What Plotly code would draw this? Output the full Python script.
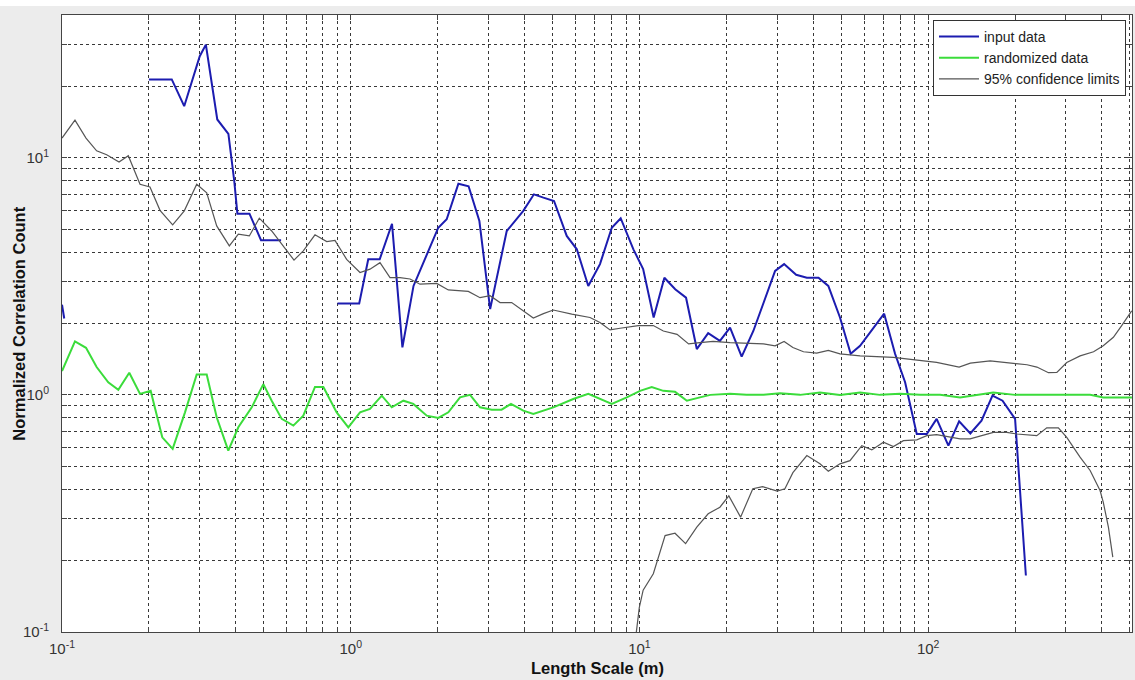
import plotly.graph_objects as go

# Length scale (m) and normalized correlation counts
input_x = [0.1, 0.1018, None,
           0.2, 0.24, 0.265, 0.30, 0.315, 0.345, 0.377, 0.395, 0.405, 0.446, 0.489, 0.574, None,
           0.90, 1.07, 1.15, 1.26, 1.39, 1.51, 1.65, 1.86, 2.01, 2.15,
           2.36, 2.56, 2.79, 3.04, 3.47, 3.96, 4.31, 4.65, 5.06, 5.60,
           6.07, 6.65, 7.30, 8.02, 8.61, 9.53, 10.3, 11.2, 12.2, 13.3,
           14.5, 15.8, 17.3, 19.0, 20.6, 22.6, 24.8, 29.5, 31.7, 34.9,
           38.0, 41.7, 45.1, 49.5, 53.9, 58.1, 70.4, 76.8, 83.2, 91.3,
           98.9, 107, 117.5, 128, 140, 153, 167, 181, 200, 218]
input_y = [2.40, 2.10, None,
           21.4, 21.4, 16.5, 26.8, 30.0, 14.5, 12.6, 7.98, 5.81, 5.81, 4.49, 4.49, None,
           2.43, 2.43, 3.73, 3.73, 5.27, 1.585, 2.88, 4.05, 5.07, 5.50,
           7.77, 7.58, 5.41, 2.30, 4.91, 5.97, 7.01, 6.79, 6.57, 4.68,
           4.11, 2.88, 3.56, 5.07, 5.56, 4.11, 3.39, 2.12, 3.12, 2.79,
           2.57, 1.56, 1.82, 1.69, 1.92, 1.45, 1.86, 3.33, 3.56, 3.21,
           3.12, 3.12, 2.88, 2.12, 1.49, 1.61, 2.20, 1.49, 1.13, 0.684,
           0.684, 0.792, 0.611, 0.773, 0.688, 0.779, 0.992, 0.945, 0.792, 0.173]

rand_x = [0.1, 0.1109, 0.1211, 0.1318, 0.1446, 0.1567, 0.171, 0.1863, 0.2028,
          0.2225, 0.2417, 0.2667, 0.2928, 0.3171, 0.3434, 0.3767, 0.408, 0.4542, 0.4982,
          0.5325, 0.5768, 0.6328, 0.6851, 0.752, 0.804, 0.894, 0.981, 1.077, 1.166,
          1.281, 1.387, 1.522, 1.647, 1.834, 2.011, 2.178, 2.391, 2.590, 2.805,
          3.08, 3.33, 3.59, 3.96, 4.29, 5.03, 5.90, 6.65, 7.30, 8.02,
          9.04, 10.05, 11.03, 12.1, 13.28, 14.6, 16.2, 17.6, 20.6, 23.5,
          26.9, 30.7, 36.0, 42.2, 49.5, 58.1, 68.1, 79.9, 93.7, 110,
          129, 145, 168, 200, 244, 298, 364, 404, 444, 508]
rand_y = [1.26, 1.68, 1.58, 1.31, 1.13, 1.05, 1.24, 1.01, 1.04,
          0.662, 0.592, 0.844, 1.22, 1.22, 0.804, 0.582, 0.730, 0.886, 1.11,
          0.945, 0.792, 0.742, 0.817, 1.08, 1.08, 0.844, 0.730, 0.844, 0.872,
          0.992, 0.886, 0.945, 0.916, 0.817, 0.799, 0.844, 0.976, 1.0, 0.886,
          0.866, 0.866, 0.916, 0.858, 0.831, 0.886, 0.961, 1.01, 0.961, 0.916,
          0.976, 1.04, 1.08, 1.04, 1.03, 0.945, 0.976, 1.0, 1.01, 1.0,
          1.0, 1.015, 1.0, 1.024, 1.0, 1.024, 1.0, 1.012, 1.0, 1.0,
          0.976, 1.0, 1.024, 1.0, 1.0, 1.0, 1.0, 0.976, 0.975, 0.975]

upper_x = [0.1, 0.1109, 0.1211, 0.1318, 0.1428, 0.1576, 0.1697, 0.1863, 0.2017, 0.2185,
           0.2417, 0.2652, 0.2928, 0.3171, 0.3434, 0.3798, 0.408, 0.4455, 0.4824, 0.5325,
           0.5922, 0.6362, 0.6851, 0.752, 0.826, 0.882, 0.968, 1.077, 1.166, 1.263,
           1.368, 1.482, 1.605, 1.738, 1.986, 2.178, 2.555, 2.805, 3.039, 3.29,
           3.61, 3.96, 4.29, 4.65, 5.03, 5.83, 6.74, 7.30, 7.91, 8.57,
           9.91, 11.17, 12.1, 13.5, 14.8, 16.2, 18.0, 20.6, 23.5, 26.9,
           29.5, 31.7, 34.0, 37.0, 41.1, 45.1, 49.5, 58.1, 75.8, 91.3,
           107, 128, 140, 164, 182, 220, 238, 261, 279, 302,
           336, 374, 404, 438, 468, 507]
upper_y = [12.1, 14.4, 12.1, 10.7, 10.3, 9.59, 10.2, 7.73, 7.53, 6.00,
           5.21, 5.97, 7.73, 7.12, 5.16, 4.25, 4.76, 4.68, 5.56, 4.91,
           4.15, 3.70, 4.05, 4.73, 4.43, 4.48, 3.73, 3.28, 3.39, 3.61,
           3.12, 3.12, 3.08, 2.93, 2.95, 2.77, 2.73, 2.57, 2.62, 2.45,
           2.45, 2.26, 2.11, 2.20, 2.28, 2.19, 2.12, 2.02, 1.88, 1.91,
           1.96, 1.96, 1.86, 1.80, 1.64, 1.66, 1.68, 1.66, 1.65, 1.64,
           1.61, 1.68, 1.585, 1.52, 1.50, 1.54, 1.49, 1.46, 1.44, 1.40,
           1.37, 1.31, 1.36, 1.39, 1.37, 1.34, 1.31, 1.24, 1.245, 1.37,
           1.46, 1.52, 1.61, 1.75, 1.96, 2.26]

lower_x = [9.6, 9.99, 10.3, 11.17, 12.27, 13.28, 14.45, 15.8, 17.3, 19.0,
           20.4, 22.4, 24.7, 26.7, 30.0, 31.9, 34.0, 38.0, 42.2, 45.1,
           49.5, 53.6, 58.9, 63.8, 70.0, 75.8, 82.1, 91.3, 98.9, 107,
           129, 139.7, 168.2, 187.2, 202.8, 237.8, 257.5, 282.5, 302, 335.8,
           363.9, 393.9, 404, 421, 436]
lower_y = [0.085, 0.127, 0.150, 0.176, 0.255, 0.261, 0.236, 0.277, 0.315, 0.336,
           0.375, 0.305, 0.402, 0.410, 0.393, 0.402, 0.470, 0.555, 0.512, 0.476,
           0.512, 0.528, 0.611, 0.586, 0.631, 0.605, 0.641, 0.646, 0.673, 0.680,
           0.652, 0.652, 0.695, 0.695, 0.684, 0.673, 0.726, 0.726, 0.662, 0.546,
           0.480, 0.395, 0.353, 0.277, 0.207]

x_decades = [-1, 0, 1, 2]
y_decades = [-1, 0, 1]

FONT = "Liberation Sans, Arial, sans-serif"
GRID = "#383838"


def log_ticks(decades, upper):
    vals, text = [], []
    for d in decades:
        for m in range(1, 10):
            v = m * 10.0 ** d
            if v > upper:
                break
            vals.append(v)
            text.append(f"10<sup>{d}</sup>" if m == 1 else "")
    return vals, text


xt_vals, xt_text = log_ticks(x_decades, 510)
yt_vals, yt_text = log_ticks(y_decades, 40)

fig = go.Figure()
fig.add_trace(go.Scatter(x=input_x, y=input_y, mode="lines", name="input data",
                         line=dict(color="#1c1cb0", width=2), connectgaps=False))
fig.add_trace(go.Scatter(x=rand_x, y=rand_y, mode="lines", name="randomized data",
                         line=dict(color="#3bdc3b", width=2)))
fig.add_trace(go.Scatter(x=upper_x, y=upper_y, mode="lines", name="95% confidence limits",
                         line=dict(color="#555555", width=1.2), legendgroup="ci"))
fig.add_trace(go.Scatter(x=lower_x, y=lower_y, mode="lines", name="95% confidence limits",
                         line=dict(color="#555555", width=1.2), legendgroup="ci",
                         showlegend=False))

axis_common = dict(
    type="log",
    showgrid=True, gridcolor=GRID, gridwidth=1, griddash="dot",
    showline=True, linecolor="#444444", linewidth=1, mirror="ticks",
    ticks="inside", ticklen=5, tickcolor="#444444",
    tickfont=dict(family=FONT, size=15, color="#333333"),
    zeroline=False,
)

fig.update_xaxes(range=[-1, 2.706], tickmode="array", tickvals=xt_vals, ticktext=xt_text,
                 ticklabelstandoff=3, **axis_common)
fig.update_yaxes(range=[-1, 1.602], tickmode="array", tickvals=yt_vals, ticktext=yt_text,
                 ticklabelstandoff=9, **axis_common)

fig.update_layout(
    width=1135, height=680,
    margin=dict(l=62, r=3, t=15, b=48),
    paper_bgcolor="#ececec", plot_bgcolor="white",
    font=dict(family=FONT, color="#222222"),
    showlegend=True,
    legend=dict(
        x=0.9944, y=0.992, xanchor="right", yanchor="top",
        bgcolor="white", bordercolor="#333333", borderwidth=1,
        font=dict(family=FONT, size=14, color="#222222"),
        tracegroupgap=0, itemwidth=40,
    ),
    annotations=[
        dict(text="<b>Length Scale (m)</b>", xref="paper", yref="paper",
             x=0.5, y=-0.0583, xanchor="center", yanchor="middle", showarrow=False,
             font=dict(family=FONT, size=16.5, color="#111111")),
        dict(text="<b>Normalized Correlation Count</b>", xref="paper", yref="paper",
             x=-0.041, y=0.5, xanchor="center", yanchor="middle", textangle=-90,
             showarrow=False, font=dict(family=FONT, size=16.5, color="#111111")),
    ],
    shapes=[
        dict(type="rect", xref="paper", yref="paper", x0=-0.06, x1=1.01,
             y0=1 + 9 / 617, y1=1 + 16 / 617, fillcolor="white", line=dict(width=0),
             layer="below"),
    ],
)

fig.write_html("out.html")
